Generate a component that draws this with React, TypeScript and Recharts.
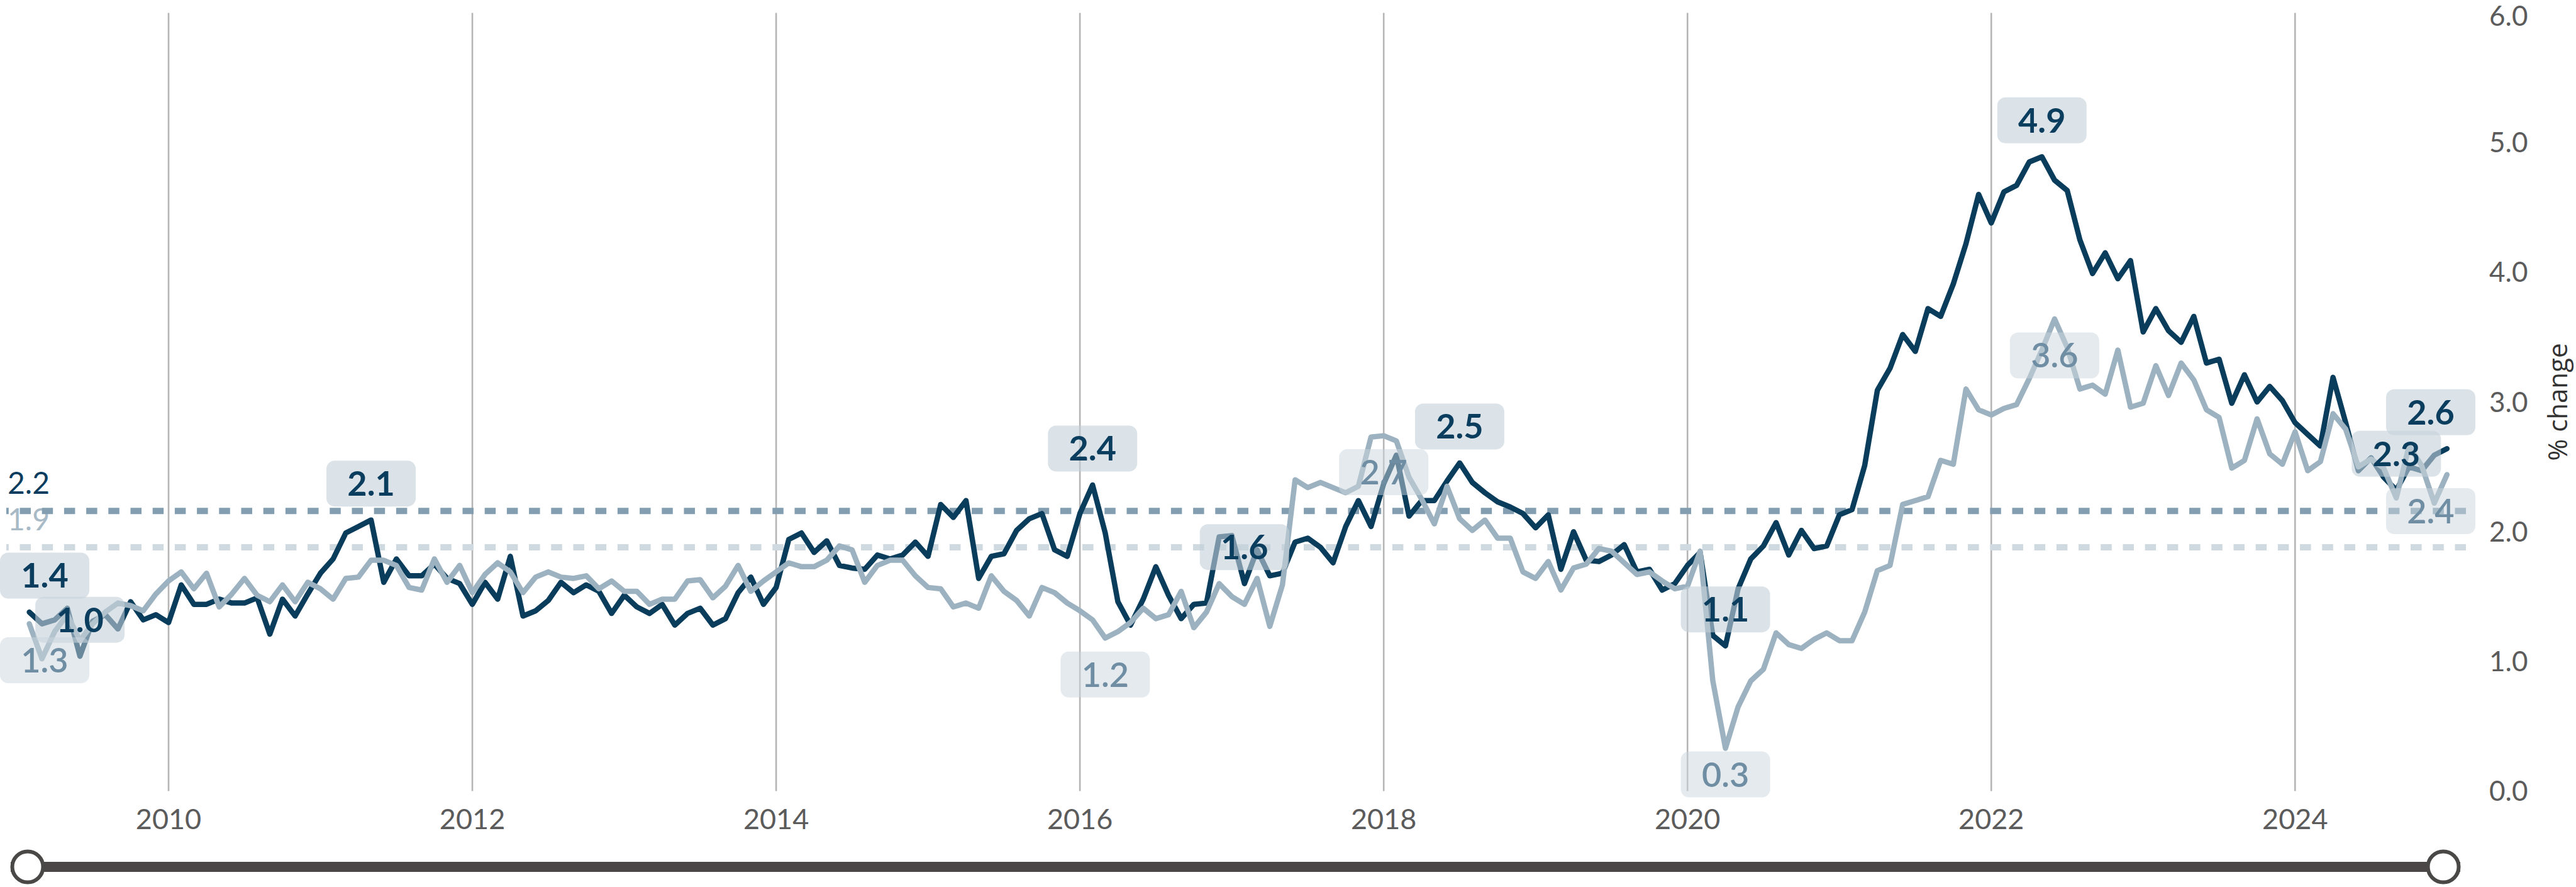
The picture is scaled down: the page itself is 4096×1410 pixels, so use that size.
import React from "react"
import { LineChart, Line, XAxis, YAxis, ReferenceLine, LabelList, Brush } from "recharts"

const W = 4096
const H = 1410
const PLOT_LEFT = 10
const PLOT_TOP = 20.4
const PLOT_RIGHT = 3921
const PLOT_BOTTOM = 1257.6

// monthly observations, Feb 2009 .. Jan 2025
const firstYear = 2009
const firstMonth = 2
const months = Array.from({ length: 192 }, (_, i) => {
  const k = firstMonth - 1 + i
  return `${firstYear + Math.floor(k / 12)}-${String((k % 12) + 1).padStart(2, "0")}`
})

const darkSeries = [
  1.38, 1.29, 1.32, 1.41, 1.04, 1.31, 1.36, 1.25, 1.46, 1.32, 1.36, 1.30,
  1.59, 1.44, 1.44, 1.48, 1.45, 1.45, 1.49, 1.21, 1.48, 1.35, 1.52, 1.68,
  1.79, 1.99, 2.04, 2.09, 1.61, 1.79, 1.66, 1.66, 1.75, 1.64, 1.60, 1.44,
  1.61, 1.48, 1.81, 1.35, 1.39, 1.47, 1.61, 1.53, 1.59, 1.54, 1.37, 1.51,
  1.42, 1.37, 1.44, 1.28, 1.37, 1.41, 1.28, 1.33, 1.53, 1.65, 1.44, 1.57,
  1.94, 1.99, 1.84, 1.93, 1.74, 1.72, 1.71, 1.82, 1.79, 1.82, 1.92, 1.81,
  2.21, 2.11, 2.24, 1.64, 1.81, 1.83, 2.01, 2.10, 2.14, 1.86, 1.81, 2.14,
  2.36, 1.99, 1.46, 1.28, 1.48, 1.73, 1.51, 1.33, 1.44, 1.45, 1.96, 1.97,
  1.60, 1.86, 1.66, 1.68, 1.92, 1.95, 1.88, 1.76, 2.04, 2.24, 2.04, 2.37,
  2.59, 2.12, 2.24, 2.24, 2.39, 2.53, 2.38, 2.30, 2.23, 2.19, 2.14, 2.03,
  2.13, 1.71, 2.00, 1.78, 1.77, 1.82, 1.90, 1.69, 1.71, 1.55, 1.60, 1.74,
  1.84, 1.20, 1.12, 1.56, 1.79, 1.89, 2.07, 1.82, 2.01, 1.87, 1.89, 2.13,
  2.17, 2.51, 3.09, 3.26, 3.52, 3.39, 3.72, 3.66, 3.91, 4.22, 4.60, 4.38,
  4.62, 4.67, 4.85, 4.89, 4.71, 4.63, 4.25, 3.99, 4.15, 3.95, 4.09, 3.54,
  3.72, 3.55, 3.46, 3.66, 3.30, 3.33, 2.99, 3.21, 3.00, 3.12, 3.01, 2.84,
  2.75, 2.66, 3.19, 2.84, 2.47, 2.57, 2.42, 2.32, 2.50, 2.47, 2.59, 2.64,
]

const lightSeries = [
  1.29, 1.02, 1.23, 1.36, 1.16, 1.29, 1.38, 1.45, 1.43, 1.39, 1.52, 1.62,
  1.69, 1.56, 1.68, 1.42, 1.52, 1.64, 1.51, 1.46, 1.59, 1.46, 1.61, 1.56,
  1.48, 1.64, 1.65, 1.78, 1.78, 1.74, 1.57, 1.55, 1.79, 1.61, 1.74, 1.53,
  1.67, 1.76, 1.69, 1.53, 1.65, 1.69, 1.65, 1.64, 1.66, 1.56, 1.62, 1.54,
  1.54, 1.44, 1.48, 1.48, 1.62, 1.63, 1.49, 1.58, 1.74, 1.54, 1.62, 1.69,
  1.76, 1.73, 1.73, 1.78, 1.89, 1.86, 1.61, 1.74, 1.78, 1.78, 1.66, 1.57,
  1.56, 1.42, 1.45, 1.41, 1.66, 1.54, 1.47, 1.35, 1.57, 1.53, 1.45, 1.39,
  1.32, 1.18, 1.23, 1.30, 1.41, 1.33, 1.36, 1.54, 1.26, 1.38, 1.60, 1.50,
  1.44, 1.64, 1.27, 1.59, 2.40, 2.34, 2.38, 2.34, 2.30, 2.35, 2.73, 2.74,
  2.70, 2.42, 2.25, 2.06, 2.35, 2.10, 2.01, 2.09, 1.95, 1.95, 1.69, 1.64,
  1.77, 1.55, 1.72, 1.75, 1.87, 1.85, 1.76, 1.67, 1.69, 1.62, 1.56, 1.58,
  1.85, 0.85, 0.33, 0.65, 0.85, 0.94, 1.22, 1.13, 1.10, 1.17, 1.22, 1.16,
  1.16, 1.38, 1.70, 1.74, 2.21, 2.24, 2.27, 2.55, 2.52, 3.10, 2.94, 2.90,
  2.95, 2.98, 3.18, 3.40, 3.64, 3.42, 3.10, 3.13, 3.06, 3.40, 2.96, 2.99,
  3.28, 3.05, 3.30, 3.17, 2.94, 2.88, 2.49, 2.55, 2.87, 2.60, 2.52, 2.77,
  2.47, 2.54, 2.91, 2.79, 2.50, 2.56, 2.49, 2.26, 2.66, 2.51, 2.22, 2.44,
]

const darkAverage = 2.16
const lightAverage = 1.88

const darkLabelMonths = ["2009-02", "2009-06", "2011-05", "2016-02", "2017-02", "2018-07", "2020-04", "2022-05", "2024-09", "2025-01"]
const lightLabelMonths = ["2009-02", "2016-03", "2018-01", "2020-04", "2022-06", "2025-01"]

const yearTicks = [2010, 2012, 2014, 2016, 2018, 2020, 2022, 2024]
const valueTicks = [0, 1, 2, 3, 4, 5, 6]

const DARK = "#0a3d5c"
const LIGHT = "#9db2c0"

const toT = (m: string) => {
  const [y, mo] = m.split("-").map(Number)
  return (y - firstYear) * 12 + (mo - 1)
}

const data = months.map((month, i) => ({
  month,
  t: toT(month),
  dark: darkSeries[i],
  light: lightSeries[i],
  darkLabel: darkLabelMonths.includes(month) ? darkSeries[i] : null,
  lightLabel: lightLabelMonths.includes(month) ? lightSeries[i] : null,
}))

const BOX_W = 142
const BOX_H = 73
const OFFSET = 58

const makeBadge = (above: boolean) => (props: any) => {
  const { value } = props
  if (value === null || value === undefined) return null
  const px = props.x ?? props.viewBox?.x
  const py = props.y ?? props.viewBox?.y
  const cx = Math.min(Math.max(px, PLOT_LEFT - 10 + BOX_W / 2), PLOT_RIGHT + 15 - BOX_W / 2)
  let cy = above ? py - OFFSET : py + OFFSET
  if (!above) cy = Math.min(cy, PLOT_BOTTOM + 10 - BOX_H / 2)
  return (
    <g>
      <rect
        x={cx - BOX_W / 2}
        y={cy - BOX_H / 2}
        width={BOX_W}
        height={BOX_H}
        rx={13}
        fill={above ? "#c3d0d9" : "#ccd6dd"}
        fillOpacity={above ? 0.6 : 0.5}
      />
      <text
        x={cx}
        y={cy}
        dy="0.36em"
        textAnchor="middle"
        fontFamily="Lato"
        fontSize={54}
        fontWeight={above ? 700 : 600}
        fill={above ? "#0b3d5e" : "#6f8ea3"}
      >
        {Number(value).toFixed(1)}
      </text>
    </g>
  )
}

const averageLabel = (value: number, color: string) => (props: any) => {
  const vb = props.viewBox || {}
  return (
    <text x={vb.x + 2} y={vb.y - 27} fontFamily="Lato" fontSize={48} fill={color}>
      {value.toFixed(1)}
    </text>
  )
}

const axisTitle = (props: any) => {
  const vb = props.viewBox || {}
  const x = vb.x + vb.width - 29
  const y = vb.y + vb.height / 2
  return (
    <text x={x} y={y} dy="0.35em" textAnchor="middle" transform={`rotate(-90 ${x} ${y})`} fontFamily="Open Sans" fontSize={42} fill="#333">
      % change
    </text>
  )
}

const Handle = (props: any) => (
  <circle cx={props.x + props.width / 2} cy={props.y + props.height / 2} r={24.5} fill="#fff" stroke="#4a4846" strokeWidth={6} />
)

export default function App() {
  return (
    <div style={{ position: "absolute", left: 0, top: 0, width: W, height: H, background: "#fff", fontFamily: "Lato" }}>
      <LineChart width={W} height={H} data={data} margin={{ top: PLOT_TOP, right: 0, left: PLOT_LEFT, bottom: 77.4 }}>
        <XAxis
          dataKey="t"
          type="number"
          domain={[-0.82, 193.5]}
          ticks={yearTicks.map((y) => (y - firstYear) * 12)}
          tickFormatter={(v) => String(firstYear + v / 12)}
          axisLine={false}
          tickLine={false}
          tickSize={0}
          tickMargin={28}
          height={60}
          tick={{ fill: "#5b5b5b", fontSize: 45, fontFamily: "Lato" }}
          allowDataOverflow
        />
        <YAxis
          orientation="right"
          domain={[0, 6]}
          ticks={valueTicks}
          tickFormatter={(v) => Number(v).toFixed(1)}
          axisLine={false}
          tickLine={false}
          tickSize={0}
          tickMargin={37}
          width={175}
          tick={{ fill: "#5b5b5b", fontSize: 44, fontFamily: "Lato" }}
          label={axisTitle}
        />
        {yearTicks.map((y) => (
          <ReferenceLine key={y} x={(y - firstYear) * 12} stroke="#b5b5b5" strokeWidth={2.6} />
        ))}
        <ReferenceLine y={lightAverage} stroke="#cfd9e0" strokeWidth={10} strokeDasharray="17.5 17.7" label={averageLabel(lightAverage, "#a9bac7")} />
        <ReferenceLine y={darkAverage} stroke="#839eb0" strokeWidth={10} strokeDasharray="17.5 17.7" label={averageLabel(darkAverage, "#0b3d5e")} />
        <Line
          type="linear"
          dataKey="dark"
          stroke={DARK}
          strokeWidth={8.5}
          strokeLinejoin="round"
          strokeLinecap="round"
          dot={false}
          isAnimationActive={false}
        >
          <LabelList dataKey="darkLabel" content={makeBadge(true)} />
        </Line>
        <Line
          type="linear"
          dataKey="light"
          stroke={LIGHT}
          strokeWidth={8.5}
          strokeLinejoin="round"
          strokeLinecap="round"
          dot={false}
          isAnimationActive={false}
        >
          <LabelList dataKey="lightLabel" content={makeBadge(false)} />
        </Line>
        <Brush
          dataKey="t"
          x={17.5}
          y={1370.5}
          width={3894}
          height={15}
          travellerWidth={53}
          fill="#4a4846"
          stroke="#4a4846"
          traveller={Handle}
        />
      </LineChart>
    </div>
  )
}
